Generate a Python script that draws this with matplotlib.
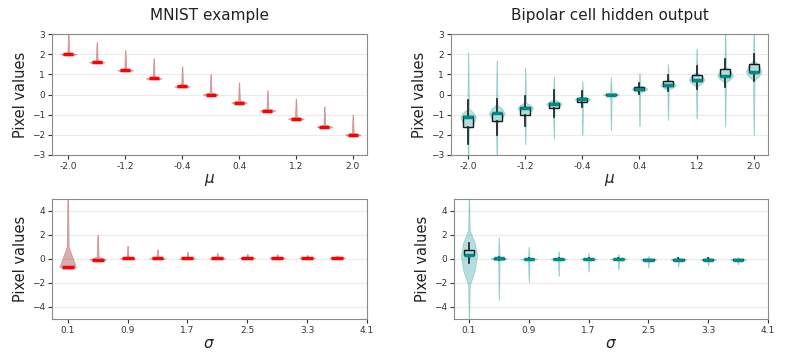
import numpy as np
import matplotlib.pyplot as plt

# x positions of the groups
mu_values = [-2.0, -1.6, -1.2, -0.8, -0.4, 0.0, 0.4, 0.8, 1.2, 1.6, 2.0]
sigma_values = [0.1, 0.5, 0.9, 1.3, 1.7, 2.1, 2.5, 2.9, 3.3, 3.7]

mu_ticks = [-2.0, -1.2, -0.4, 0.4, 1.2, 2.0]
mu_ticklabels = ['-2.0', '-1.2', '-0.4', '0.4', '1.2', '2.0']
sigma_ticks = [0.1, 0.9, 1.7, 2.5, 3.3, 4.1]
sigma_ticklabels = ['0.1', '0.9', '1.7', '2.5', '3.3', '4.1']

# MNIST example, varying mu (median, bottom of body, end of body, end of tail)
mnist_mu_med = [2.0, 1.6, 1.2, 0.8, 0.4, 0.0, -0.4, -0.8, -1.2, -1.6, -2.0]
mnist_mu_low = [1.95, 1.55, 1.15, 0.75, 0.35, -0.05, -0.45, -0.85, -1.25, -1.65, -2.05]
mnist_mu_core = [2.1, 1.7, 1.3, 0.9, 0.5, 0.1, -0.3, -0.7, -1.1, -1.5, -1.9]
mnist_mu_high = [3.1, 2.6, 2.2, 1.8, 1.4, 1.0, 0.6, 0.2, -0.2, -0.6, -1.0]

# MNIST example, varying sigma
mnist_sig_med = [-0.65, -0.05, 0.05, 0.05, 0.05, 0.05, 0.1, 0.1, 0.1, 0.1]
mnist_sig_low = [-0.8, -0.12, 0.0, 0.0, 0.0, 0.0, 0.05, 0.05, 0.05, 0.05]
mnist_sig_core = [1.0, 0.2, 0.15, 0.15, 0.15, 0.15, 0.18, 0.18, 0.18, 0.18]
mnist_sig_high = [5.5, 2.0, 1.1, 0.8, 0.6, 0.5, 0.45, 0.4, 0.35, 0.3]

# Bipolar cell hidden output, varying mu
bp_mu_med = [-1.13, -0.93, -0.66, -0.46, -0.23, 0.0, 0.28, 0.46, 0.73, 0.93, 1.14]
bp_mu_q1 = [-1.63, -1.31, -1.0, -0.68, -0.36, -0.02, 0.2, 0.43, 0.68, 0.93, 1.14]
bp_mu_q3 = [-1.09, -0.93, -0.63, -0.40, -0.17, 0.02, 0.35, 0.66, 0.96, 1.26, 1.51]
bp_mu_wlo = [-2.45, -2.0, -1.56, -1.13, -0.63, -0.03, 0.02, 0.15, 0.27, 0.35, 0.65]
bp_mu_whi = [-0.27, -0.2, -0.07, 0.2, 0.15, 0.03, 0.56, 0.96, 1.39, 1.76, 2.0]
bp_mu_vlow = [-3.5, -3.5, -2.45, -2.17, -2.0, -1.76, -1.56, -1.26, -1.19, -1.59, -2.0]
bp_mu_clow = [-1.7, -1.4, -1.0, -0.7, -0.4, -0.1, 0.1, 0.25, 0.4, 0.6, 0.7]
bp_mu_chigh = [-0.7, -0.5, -0.4, -0.25, -0.1, 0.1, 0.45, 0.75, 1.1, 1.4, 1.7]
bp_mu_vhigh = [2.09, 1.69, 1.31, 0.9, 0.65, 0.86, 1.06, 1.51, 2.26, 3.5, 3.5]

# Bipolar cell hidden output, varying sigma
bp_sig_med = [0.3, 0.05, 0.0, 0.0, 0.0, 0.0, -0.05, -0.05, -0.05, -0.05]
bp_sig_q1 = [0.3, 0.0, -0.03, -0.03, -0.03, -0.03, -0.08, -0.08, -0.08, -0.08]
bp_sig_q3 = [0.75, 0.08, 0.03, 0.03, 0.03, 0.03, -0.02, -0.02, -0.02, -0.02]
bp_sig_wlo = [-0.3, -0.05, -0.08, -0.08, -0.08, -0.08, -0.12, -0.15, -0.12, -0.12]
bp_sig_whi = [1.35, 0.2, 0.08, 0.08, 0.08, 0.08, 0.02, 0.08, 0.08, 0.02]
bp_sig_vlow = [-5.5, -3.4, -1.9, -1.4, -1.05, -0.85, -0.7, -0.6, -0.55, -0.45]
bp_sig_clow = [-2.2, -0.15, -0.12, -0.12, -0.12, -0.12, -0.15, -0.15, -0.15, -0.15]
bp_sig_chigh = [2.4, 0.2, 0.12, 0.12, 0.12, 0.12, 0.05, 0.05, 0.05, 0.05]
bp_sig_vhigh = [5.5, 1.8, 1.0, 0.65, 0.5, 0.4, 0.25, 0.2, 0.2, 0.15]


def mnist_stats(med, low, core, high):
    # body sits at the background value, thin tail up to the digit pixels
    vstats, bstats = [], []
    for m, lo, c, hi in zip(med, low, core, high):
        vstats.append({'coords': np.array([lo, m, c, hi]),
                       'vals': np.array([0.6, 1.0, 0.12, 0.03]),
                       'mean': m, 'median': m, 'min': lo, 'max': hi})
        bstats.append({'med': m, 'q1': m, 'q3': m, 'whislo': m, 'whishi': m, 'fliers': []})
    return vstats, bstats


def bipolar_stats(med, q1, q3, wlo, whi, vlow, clow, chigh, vhigh):
    vstats, bstats = [], []
    for i in range(len(med)):
        # rounded body around the median with long thin tails
        coords = np.array([vlow[i], clow[i], (clow[i] + med[i]) / 2, med[i],
                           (med[i] + chigh[i]) / 2, chigh[i], vhigh[i]])
        vstats.append({'coords': coords,
                       'vals': np.array([0.02, 0.1, 0.7, 1.0, 0.7, 0.1, 0.02]),
                       'mean': med[i], 'median': med[i], 'min': vlow[i], 'max': vhigh[i]})
        bstats.append({'med': med[i], 'q1': q1[i], 'q3': q3[i],
                       'whislo': wlo[i], 'whishi': whi[i], 'fliers': []})
    return vstats, bstats


def draw_panel(ax, positions, vstats, bstats, body_color, body_alpha,
               box_face, line_color, med_color, box_width):
    parts = ax.violin(vstats, positions=positions, widths=0.22,
                      showmeans=False, showextrema=False, showmedians=False)
    for body in parts['bodies']:
        body.set_facecolor(body_color)
        body.set_edgecolor(body_color)
        body.set_alpha(body_alpha)
        body.set_linewidth(0.6)
    ax.bxp(bstats, positions=positions, widths=box_width, patch_artist=True,
           showfliers=False, showcaps=False, manage_ticks=False, zorder=3,
           boxprops=dict(facecolor=box_face, edgecolor=line_color, linewidth=1.0),
           medianprops=dict(color=med_color, linewidth=2.5, solid_capstyle='butt'),
           whiskerprops=dict(color=line_color, linewidth=1.2))


def style_axes(ax, ylim, yticks, xlim, xticks, xticklabels, xlabel):
    ax.set_xlim(xlim)
    ax.set_ylim(ylim)
    ax.set_yticks(yticks)
    ax.set_xticks(xticks)
    ax.set_xticklabels(xticklabels)
    ax.yaxis.grid(True, color='#ebebeb', linewidth=0.8)
    ax.set_axisbelow(True)
    for sp in ax.spines.values():
        sp.set_color('#8a8a8a')
    ax.tick_params(labelsize=6.5, colors='#333333', length=3, pad=2)
    ax.set_ylabel('Pixel values', fontsize=10.5, color='#222222', labelpad=3)
    ax.set_xlabel(xlabel, fontsize=11, color='#222222', labelpad=1)


W, H = 789, 356
fig = plt.figure(figsize=(W / 100, H / 100), dpi=100)

ax1 = fig.add_axes([52 / W, (H - 155) / H, 315 / W, 121 / H])
ax2 = fig.add_axes([451 / W, (H - 155) / H, 317 / W, 121 / H])
ax3 = fig.add_axes([52 / W, (H - 319) / H, 315 / W, 120 / H])
ax4 = fig.add_axes([454 / W, (H - 319) / H, 314 / W, 120 / H])

red_body = '#b86b6b'
teal_body = '#1a9a94'

v, b = mnist_stats(mnist_mu_med, mnist_mu_low, mnist_mu_core, mnist_mu_high)
draw_panel(ax1, mu_values, v, b, red_body, 0.55, 'none', 'none', 'red', 0.14)
style_axes(ax1, (-3, 3), range(-3, 4), (-2.23, 2.2), mu_ticks, mu_ticklabels, r'$\mu$')
ax1.set_title('MNIST example', fontsize=11, pad=10, color='#222222')

v, b = bipolar_stats(bp_mu_med, bp_mu_q1, bp_mu_q3, bp_mu_wlo, bp_mu_whi,
                     bp_mu_vlow, bp_mu_clow, bp_mu_chigh, bp_mu_vhigh)
draw_panel(ax2, mu_values, v, b, teal_body, 0.32, '#b2dcd9', '#1a1a1a', '#008b8b', 0.14)
style_axes(ax2, (-3, 3), range(-3, 4), (-2.24, 2.2), mu_ticks, mu_ticklabels, r'$\mu$')
ax2.set_title('Bipolar cell hidden output', fontsize=11, pad=10, color='#222222')

v, b = mnist_stats(mnist_sig_med, mnist_sig_low, mnist_sig_core, mnist_sig_high)
draw_panel(ax3, sigma_values, v, b, red_body, 0.55, 'none', 'none', 'red', 0.16)
style_axes(ax3, (-5, 5), [-4, -2, 0, 2, 4], (-0.11, 4.1), sigma_ticks, sigma_ticklabels, r'$\sigma$')

v, b = bipolar_stats(bp_sig_med, bp_sig_q1, bp_sig_q3, bp_sig_wlo, bp_sig_whi,
                     bp_sig_vlow, bp_sig_clow, bp_sig_chigh, bp_sig_vhigh)
draw_panel(ax4, sigma_values, v, b, teal_body, 0.32, '#b2dcd9', '#1a1a1a', '#008b8b', 0.14)
style_axes(ax4, (-5, 5), [-4, -2, 0, 2, 4], (-0.1, 4.1), sigma_ticks, sigma_ticklabels, r'$\sigma$')

plt.savefig('out.png', dpi=100)
